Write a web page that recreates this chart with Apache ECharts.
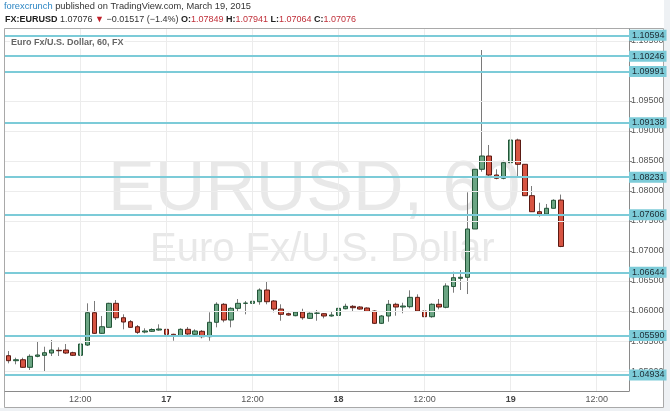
<!DOCTYPE html>
<html>
<head>
<meta charset="utf-8">
<script src="https://cdn.jsdelivr.net/npm/echarts@6/dist/echarts.min.js"></script>
<style>
  html, body { margin: 0; padding: 0; background: #eef1f4; }
  #main { width: 670px; height: 411px; }
</style>
</head>
<body>
<div id="main"></div>
<script>
// hourly candles, EUR/USD, from Mar 16 02:00
var opens = [
  1.05255, 1.05172, 1.05188, 1.05062, 1.05245, 1.05262, 1.05300, 1.05345, 1.05350, 1.05305,
  1.05262, 1.05433, 1.05972, 1.05628, 1.05728, 1.06128, 1.05888, 1.05822, 1.05738, 1.05650,
  1.05662, 1.05683, 1.05695, 1.05612, 1.05578, 1.05695, 1.05612, 1.05662, 1.05572, 1.05812,
  1.06112, 1.05850, 1.06045, 1.06128, 1.06128, 1.06155, 1.06350, 1.06167, 1.06033, 1.05955,
  1.05922, 1.05983, 1.05878, 1.05962, 1.05955, 1.05917, 1.05928, 1.06038, 1.06078, 1.06067,
  1.06050, 1.06000, 1.05795, 1.05917, 1.06112, 1.06067, 1.06072, 1.06228, 1.06000, 1.05905,
  1.06112, 1.06062, 1.06408, 1.06545, 1.06562, 1.07367, 1.08362, 1.08583, 1.08267, 1.08212,
  1.08472, 1.08850, 1.08445, 1.07922, 1.07655, 1.07617, 1.07712, 1.07849
];
var closes = [
  1.05172, 1.05188, 1.05062, 1.05245, 1.05267, 1.05305, 1.05350, 1.05338, 1.05300, 1.05262,
  1.05450, 1.05972, 1.05628, 1.05738, 1.06128, 1.05888, 1.05817, 1.05728, 1.05645, 1.05667,
  1.05692, 1.05700, 1.05612, 1.05578, 1.05695, 1.05617, 1.05667, 1.05572, 1.05812, 1.06112,
  1.05850, 1.06045, 1.06128, 1.06132, 1.06162, 1.06350, 1.06155, 1.06033, 1.05945, 1.05933,
  1.05983, 1.05888, 1.05962, 1.05965, 1.05917, 1.05933, 1.06045, 1.06078, 1.06055, 1.06033,
  1.05995, 1.05795, 1.05917, 1.06112, 1.06067, 1.06083, 1.06228, 1.06000, 1.05905, 1.06112,
  1.06067, 1.06417, 1.06555, 1.06562, 1.07367, 1.08362, 1.08583, 1.08267, 1.08212, 1.08472,
  1.08850, 1.08445, 1.07922, 1.07655, 1.07617, 1.07712, 1.07845, 1.07076
];
var highs = [
  1.05333, 1.05222, 1.05222, 1.05278, 1.05488, 1.05405, 1.05517, 1.05395, 1.05450, 1.05322,
  1.05572, 1.06128, 1.06167, 1.05917, 1.06138, 1.06183, 1.05945, 1.05850, 1.05767, 1.05712,
  1.05712, 1.05778, 1.05705, 1.05622, 1.05712, 1.05733, 1.05695, 1.05683, 1.05978, 1.06145,
  1.06133, 1.06062, 1.06200, 1.06167, 1.06405, 1.06378, 1.06500, 1.06183, 1.06112, 1.05972,
  1.06000, 1.06038, 1.05978, 1.06017, 1.05962, 1.05995, 1.06062, 1.06122, 1.06100, 1.06083,
  1.06062, 1.06012, 1.05933, 1.06183, 1.06138, 1.06138, 1.06345, 1.06278, 1.06017, 1.06128,
  1.06200, 1.06462, 1.06655, 1.06683, 1.07978, 1.08362, 1.10350, 1.08767, 1.08362, 1.08505,
  1.09183, 1.08872, 1.08445, 1.08083, 1.07805, 1.07783, 1.07862, 1.07941
];
var lows = [
  1.05128, 1.05112, 1.05055, 1.05017, 1.05228, 1.04988, 1.05250, 1.05250, 1.05283, 1.05250,
  1.05250, 1.05417, 1.05617, 1.05617, 1.05728, 1.05850, 1.05695, 1.05722, 1.05617, 1.05628,
  1.05650, 1.05672, 1.05605, 1.05505, 1.05572, 1.05600, 1.05600, 1.05545, 1.05505, 1.05728,
  1.05812, 1.05728, 1.06000, 1.05945, 1.06083, 1.06105, 1.06112, 1.05978, 1.05838, 1.05922,
  1.05912, 1.05855, 1.05867, 1.05838, 1.05878, 1.05905, 1.05922, 1.06028, 1.06000, 1.06022,
  1.05988, 1.05783, 1.05783, 1.05822, 1.05922, 1.05962, 1.06045, 1.05988, 1.05895, 1.05888,
  1.06028, 1.06045, 1.06305, 1.06350, 1.06283, 1.07367, 1.08322, 1.08238, 1.08195, 1.08195,
  1.08378, 1.08238, 1.07922, 1.07655, 1.07572, 1.07600, 1.07712, 1.07064
];
// price axis tick labels
var yTicks = [1.05000, 1.05500, 1.06000, 1.06500, 1.07000, 1.07500, 1.08000, 1.08500,
  1.09000, 1.09500, 1.10000, 1.10500];
// horizontal levels drawn on the chart
var levels = [1.10594, 1.10246, 1.09991, 1.09138, 1.08231, 1.07606, 1.06644, 1.05590, 1.04934];
var lastPrice = 1.07076;
var countdown = '36:11';

// 87 hourly slots (78 with data + empty space to the right)
var startDay = 16, startHour = 2, slots = 87;
var categories = [];
for (var i = 0; i < slots; i++) {
  var h = startHour + i;
  var d = startDay + Math.floor(h / 24);
  var hh = h % 24;
  categories.push('03-' + d + ' ' + (hh < 10 ? '0' : '') + hh + ':00');
}
function isMark(idx) {
  var t = categories[idx].slice(6);
  return t === '00:00' || t === '12:00';
}

var font = 'Arial, "Liberation Sans", sans-serif';
var cyan = '#7ccbd8';
var red = '#e0584a';

var wickData = opens.map(function (o, k) { return [o, closes[k], lows[k], highs[k]]; });
var bodyData = opens.map(function (o, k) {
  return [o, closes[k], Math.min(o, closes[k]), Math.max(o, closes[k])];
});

// light grid: vertical at day / noon, horizontal at price ticks
var gridLines = [];
categories.forEach(function (c, idx) { if (isMark(idx)) gridLines.push({ xAxis: c }); });
yTicks.forEach(function (v) { gridLines.push({ yAxis: v }); });

var levelLines = levels.map(function (v) {
  return {
    yAxis: v,
    label: { formatter: v.toFixed(5), backgroundColor: cyan, color: '#1d2b33', padding: [1, 2, 1, 3] }
  };
});
levelLines.push({
  yAxis: lastPrice,
  lineStyle: { opacity: 0 },
  label: { formatter: lastPrice.toFixed(5), backgroundColor: red, color: '#fff', padding: [1, 2, 1, 3] }
});
levelLines.push({
  yAxis: lastPrice,
  lineStyle: { opacity: 0 },
  label: { formatter: countdown, backgroundColor: red, color: '#fff', padding: [1, 3, 1, 3], offset: [12, 11] }
});

var myChart = echarts.init(document.getElementById('main'));
var option = {
  animation: false,
  backgroundColor: 'transparent',
  textStyle: { fontFamily: font },
  grid: { left: 5, right: 41, top: 29, bottom: 20 },
  graphic: [
    { type: 'rect', z: -20, shape: { x: 0, y: 0, width: 664, height: 408 }, style: { fill: '#fff' } },
    { type: 'rect', z: -19, shape: { x: 4.5, y: 28.5, width: 659, height: 379 }, style: { fill: 'none', stroke: '#a9a9a9', lineWidth: 1 } },
    {
      type: 'text', x: 4, y: 2, z: 5,
      style: {
        text: '{a|forexcrunch} published on TradingView.com, March 19, 2015',
        font: '9.3px ' + font, fill: '#333',
        rich: { a: { fill: '#2c86c4', fontSize: 9.3, fontFamily: font } }
      }
    },
    {
      type: 'text', x: 5, y: 15, z: 5,
      style: {
        text: '{b|FX:EURUSD} 1.07076 {r|\u25BC} \u22120.01517 (\u22121.4%) {b|O:}{v|1.07849} {b|H:}{v|1.07941} {b|L:}{v|1.07064} {b|C:}{v|1.07076}',
        font: '9px ' + font, fill: '#333',
        rich: {
          b: { fontWeight: 'bold', fontSize: 9, fontFamily: font, fill: '#222' },
          r: { fill: '#c0202a', fontSize: 9, fontFamily: font },
          v: { fill: '#c0303a', fontSize: 9, fontFamily: font }
        }
      }
    },
    {
      type: 'text', x: 10, y: 37.5, z: 50,
      style: {
        text: 'Euro Fx/U.S. Dollar, 60, FX', font: 'bold 9px ' + font, fill: '#666',
        backgroundColor: '#fff', padding: [1, 1, 1, 1]
      }
    },
    {
      type: 'text', x: 108, y: 156, z: -5,
      style: { text: 'EURUSD, 60', font: '70px ' + font, fill: '#e8e8e8' }
    },
    {
      type: 'text', x: 150, y: 230, z: -5,
      style: { text: 'Euro Fx/U.S. Dollar', font: '40px ' + font, fill: '#e8e8e8' }
    }
  ],
  xAxis: {
    type: 'category',
    data: categories,
    boundaryGap: true,
    axisLine: { lineStyle: { color: '#8a8a8a' } },
    axisTick: { alignWithLabel: true, length: 3, interval: function (idx) { return isMark(idx); }, lineStyle: { color: '#8a8a8a' } },
    axisLabel: {
      interval: function (idx) { return isMark(idx); },
      margin: 4, fontSize: 9, color: '#555',
      formatter: function (val) {
        if (val.slice(6) === '12:00') return '12:00';
        return '{d|' + parseInt(val.slice(3, 5), 10) + '}';
      },
      rich: { d: { fontWeight: 'bold', fontSize: 9, color: '#444' } }
    },
    splitLine: { show: false }
  },
  yAxis: {
    type: 'value',
    position: 'right',
    min: 1.04667,
    max: 1.10700,
    axisLine: { show: true, lineStyle: { color: '#8a8a8a' } },
    axisTick: { show: true, length: 3, customValues: yTicks, lineStyle: { color: '#8a8a8a' } },
    axisLabel: {
      show: true, customValues: yTicks, margin: 2, fontSize: 9, color: '#555',
      formatter: function (v) { return v.toFixed(5); }
    },
    splitLine: { show: false }
  },
  series: [
    {
      name: 'wicks',
      type: 'candlestick',
      data: wickData,
      barWidth: 1,
      itemStyle: { color: '#7a7a7a', color0: '#7a7a7a', borderColor: '#7a7a7a', borderColor0: '#7a7a7a', borderWidth: 1 },
      markLine: {
        silent: true, symbol: 'none', animation: false, precision: 5,
        lineStyle: { color: '#ececec', width: 1, type: 'solid' },
        label: { show: false },
        data: gridLines
      }
    },
    {
      name: 'EURUSD',
      type: 'candlestick',
      data: bodyData,
      barWidth: 5,
      itemStyle: { color: '#6ba583', color0: '#d75442', borderColor: '#225437', borderColor0: '#5b1a13', borderWidth: 1 },
      markLine: {
        silent: true, symbol: 'none', animation: false, precision: 5,
        lineStyle: { color: cyan, width: 2, type: 'solid' },
        label: { position: 'end', distance: 0, fontSize: 9, fontFamily: font },
        data: levelLines
      }
    }
  ]
};
myChart.setOption(option);
window.addEventListener('resize', function () {
  myChart.resize();
});
</script>
</body>
</html>
